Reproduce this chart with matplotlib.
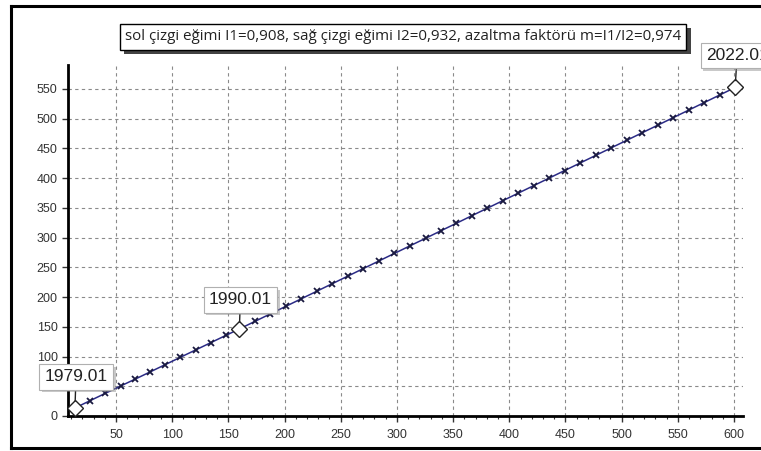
import matplotlib
matplotlib.use("Agg")
import matplotlib.pyplot as plt
import matplotlib.patheffects as pe
from matplotlib.lines import Line2D
from matplotlib.ticker import MultipleLocator

# Cumulative series (double-mass curve), one point per year 1979.01 .. 2022.01
years = [f"{y}.01" for y in range(1979, 2023)]
x_cum = [13.5, 27.0, 40.4, 54.1, 67.2, 80.6, 94.0, 107.3, 121.1, 134.4, 147.8, 159.8,
         173.7, 187.5, 201.4, 215.0, 228.9, 242.6, 256.6, 270.1, 284.1, 297.7, 311.5,
         325.5, 339.0, 353.0, 366.6, 380.6, 394.2, 408.1, 421.7, 435.7, 449.3, 463.2,
         476.8, 490.8, 504.4, 518.3, 532.2, 545.7, 559.7, 573.3, 587.3, 601.0]
y_cum = [13.5, 25.8, 38.0, 50.4, 62.1, 74.3, 86.5, 98.7, 111.2, 123.3, 135.5, 146.3,
         159.1, 171.8, 184.6, 197.1, 209.9, 222.5, 235.4, 247.8, 260.7, 273.2, 285.9,
         298.7, 311.2, 324.0, 336.6, 349.4, 361.9, 374.7, 387.2, 400.1, 412.6, 425.4,
         437.9, 450.8, 463.3, 476.1, 488.9, 501.3, 514.2, 526.7, 539.6, 552.2]
labelled = ["1979.01", "1990.01", "2022.01"]
label_offsets = [(1, 31), (1, 29), (2, 32)]  # pixel offsets of the callout boxes

title = "sol çizgi eğimi I1=0,908, sağ çizgi eğimi I2=0,932, azaltma faktörü m=I1/I2=0,974"

fig = plt.figure(figsize=(7.61, 4.51), dpi=100)
fig.patch.set_facecolor("white")
ax = fig.add_axes([68 / 761, 35 / 451, (743 - 68) / 761, (416 - 65) / 451])

ax.set_xlim(7.3, 608)
ax.set_ylim(0, 590)

# the curve
ax.plot(x_cum, y_cum, color="#2b2b86", lw=1.1, marker="x", ms=5, mew=1.3,
        mec="#1a1a40", zorder=3)

# highlighted points with callouts
for lab, (dx, dy) in zip(labelled, label_offsets):
    i = years.index(lab)
    ax.plot(x_cum[i], y_cum[i], marker="D", ms=8, mfc="white", mec="#222222",
            mew=1.0, zorder=4, ls="none")
    ann = ax.annotate(lab, xy=(x_cum[i], y_cum[i]), xytext=(dx, dy),
                      textcoords="offset pixels", ha="center", va="center",
                      family="Liberation Sans", fontsize=12.5, color="#222222",
                      bbox=dict(boxstyle="square,pad=0.3", fc="white",
                                ec="#b0b0b0", lw=0.8),
                      arrowprops=dict(arrowstyle="-", color="#222222", lw=1.0,
                                      shrinkA=0, shrinkB=5),
                      zorder=5, annotation_clip=False)
    ann.get_bbox_patch().set_path_effects(
        [pe.SimplePatchShadow(offset=(2, -2), shadow_rgbFace="#888888", alpha=0.45),
         pe.Normal()])

# axes styling
for s in ("top", "right"):
    ax.spines[s].set_visible(False)
for s in ("left", "bottom"):
    ax.spines[s].set_linewidth(2.0)
    ax.spines[s].set_color("black")

ax.xaxis.set_major_locator(MultipleLocator(50))
ax.xaxis.set_minor_locator(MultipleLocator(10))
ax.yaxis.set_major_locator(MultipleLocator(50))
ax.tick_params(axis="both", which="major", direction="out", length=4, width=1,
               labelsize=9, labelcolor="#333333", color="#333333")
ax.tick_params(axis="x", which="major", pad=5)
ax.tick_params(axis="x", which="minor", direction="out", length=2.5, width=0.8,
               color="#333333")
ax.set_xticks([t for t in range(50, 601, 50)])
ax.set_yticks([t for t in range(0, 551, 50)])
for lbl in ax.get_xticklabels() + ax.get_yticklabels():
    lbl.set_family("Liberation Sans")

ax.grid(True, which="major", color="#8a8a8a", lw=0.8, ls=(0, (3, 3)))
ax.set_axisbelow(True)

# headline box with drop shadow
t = fig.text(403 / 761, 1 - 37 / 451, title, ha="center", va="center",
             family="Open Sans", fontsize=10.9, color="#222222",
             bbox=dict(boxstyle="square,pad=0.35", fc="white", ec="black", lw=1.0))
t.get_bbox_patch().set_path_effects(
    [pe.SimplePatchShadow(offset=(3, -3), shadow_rgbFace="#222222", alpha=0.85),
     pe.Normal()])

# outer frame (top, left, bottom)
W, H = 761, 451
for (x0, y0, x1, y1) in [(11, 6, 761, 6), (11, 6, 11, 448), (11, 448, 761, 448)]:
    fig.add_artist(Line2D([x0 / W, x1 / W], [1 - y0 / H, 1 - y1 / H],
                          transform=fig.transFigure, color="black", lw=2.2))

fig.savefig("out.png", dpi=100)
